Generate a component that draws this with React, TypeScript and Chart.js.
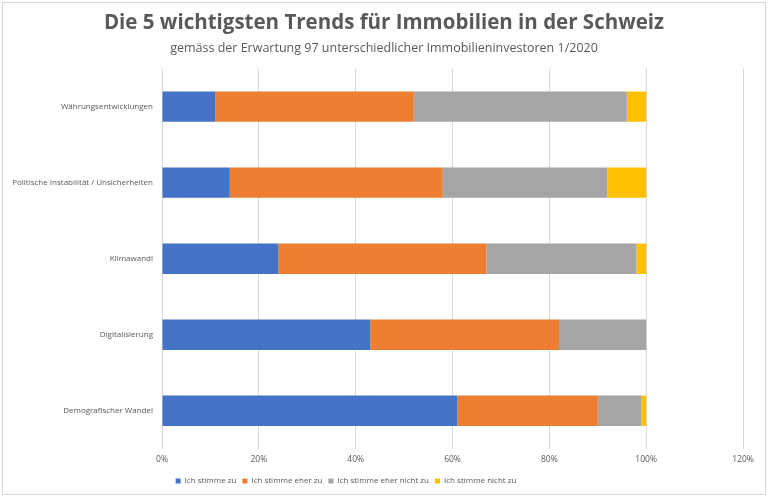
import React, { useEffect, useRef } from "react";
import { Chart, registerables } from "chart.js";

Chart.register(...registerables);

const categories = [
  "Währungsentwicklungen",
  "Politische Instabilität / Unsicherheiten",
  "Klimawandl",
  "Digitalisierung",
  "Demografischer Wandel",
];
const seriesNames = ["Ich stimme zu", "Ich stimme eher zu", "Ich stimme eher nicht zu", "Ich stimme nicht zu"];
const stimmeZu = [11, 14, 24, 43, 61];
const eherZu = [41, 44, 43, 39, 29];
const eherNichtZu = [44, 34, 31, 18, 9];
const nichtZu = [4, 8, 2, 0, 1];
const xTicks = [0, 20, 40, 60, 80, 100, 120];

const colors = ["#4472C4", "#ED7D31", "#A5A5A5", "#FFC000"];
const FONT = "'Open Sans', 'DejaVu Sans', sans-serif";
const GREY = "#595959";
const RIGHT_PAD = 25;

const boxShift = {
  id: "boxShift",
  afterLayout(chart: any) {
    for (const box of chart.boxes) {
      if (box === chart.legend) {
        box.left -= 25.5;
        box.right -= 25.5;
      } else if (box.options && typeof box.options.text === "string") {
        box.left += RIGHT_PAD / 2;
        box.right += RIGHT_PAD / 2;
      }
    }
  },
};

export default function App() {
  const ref = useRef<HTMLCanvasElement | null>(null);
  useEffect(() => {
    if (!ref.current) return;
    const values = [stimmeZu, eherZu, eherNichtZu, nichtZu];
    const chart = new Chart(ref.current, {
      type: "bar",
      data: {
        labels: categories,
        datasets: seriesNames.map((name, i) => ({
          label: name,
          data: values[i],
          backgroundColor: colors[i],
          borderWidth: 0,
          barPercentage: 0.4,
          categoryPercentage: 1,
        })),
      },
      options: {
        indexAxis: "y",
        responsive: false,
        animation: false,
        layout: { padding: { left: 0, right: RIGHT_PAD, top: 0, bottom: 3 } },
        scales: {
          x: {
            stacked: true,
            min: 0,
            max: 120,
            afterBuildTicks: (scale: any) => {
              scale.ticks = xTicks.map((v) => ({ value: v }));
            },
            ticks: {
              callback: (v: any) => v + "%",
              font: { family: FONT, size: 8.5 },
              color: GREY,
              padding: 6,
            },
            grid: { color: "#d9d9d9", drawTicks: false },
            border: { display: false },
          },
          y: {
            stacked: true,
            ticks: {
              font: { family: FONT, size: 8 },
              color: GREY,
              padding: 9,
            },
            grid: { display: false, drawTicks: false },
            border: { display: false },
            afterFit: (scale: any) => {
              scale.width = 162;
            },
          },
        },
        plugins: {
          title: {
            display: true,
            text: "Die 5 wichtigsten Trends für Immobilien in der Schweiz",
            font: { family: FONT, size: 20.5, weight: "bold" },
            color: GREY,
            padding: { top: 11, bottom: 4 },
          },
          subtitle: {
            display: true,
            text: "gemäss der Erwartung 97 unterschiedlicher Immobilieninvestoren 1/2020",
            font: { family: FONT, size: 12.5 },
            color: GREY,
            padding: { top: 1, bottom: 13 },
          },
          legend: {
            position: "bottom",
            labels: {
              boxWidth: 5,
              boxHeight: 5,
              font: { family: FONT, size: 8 },
              color: GREY,
              padding: 6,
            },
          },
          tooltip: { enabled: false },
        },
      },
      plugins: [boxShift],
    } as any);
    return () => chart.destroy();
  }, []);
  return (
    <div style={{ position: "absolute", left: 0, top: 0, width: 768, height: 498, background: "#fff" }}>
      <div
        style={{
          position: "absolute",
          left: 2,
          top: 2,
          width: 762,
          height: 491,
          border: "1px solid #d9d9d9",
        }}
      />
      <canvas ref={ref} width={768} height={498} style={{ position: "absolute", left: 0, top: 0 }} />
    </div>
  );
}
